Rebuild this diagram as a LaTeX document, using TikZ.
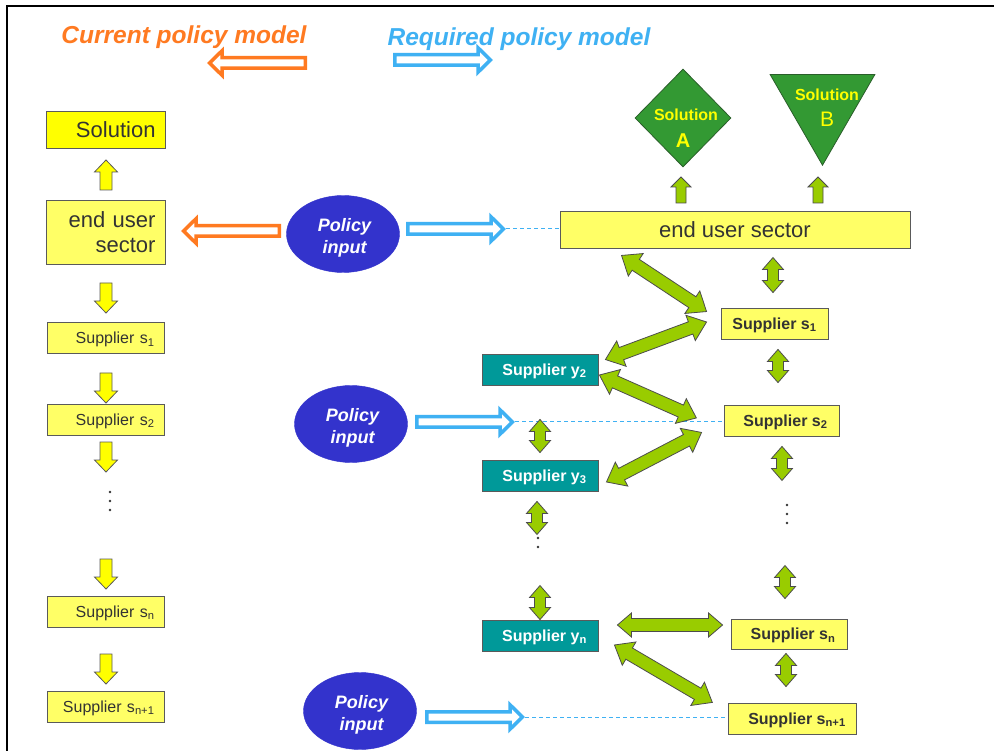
\documentclass[tikz,border=0pt]{standalone}
\usepackage{fontspec}
\setmainfont{Liberation Sans}
\usetikzlibrary{shapes.geometric,calc}

\definecolor{orangeT}{HTML}{FF7A21}
\definecolor{blueT}{HTML}{3FB1F3}
\definecolor{yelA}{HTML}{FFFF00}
\definecolor{yelB}{HTML}{FFFF66}
\definecolor{boxline}{HTML}{5A5A5A}
\definecolor{tealbox}{HTML}{009999}
\definecolor{solgreen}{HTML}{339933}
\definecolor{solline}{HTML}{2A5E2A}
\definecolor{polblue}{HTML}{3333CC}
\definecolor{arrgreen}{HTML}{99CC00}
\definecolor{txtgray}{HTML}{333333}

\newcommand\fsz[2]{\fontsize{#1}{#2}\selectfont}

% green two-headed block arrow between two points:
% #1 from, #2 to, #3 half body width, #4 half head width, #5 head length
\newcommand\gdbl[5]{%
  \path #1; \pgfgetlastxy{\gax}{\gay}%
  \path #2; \pgfgetlastxy{\gbx}{\gby}%
  \pgfmathsetmacro\gang{atan2(\gby-\gay,\gbx-\gax)}%
  \pgfmathsetmacro\glen{veclen(\gbx-\gax,\gby-\gay)}%
  \pgfmathsetmacro\gm{\glen-#5}%
  \begin{scope}[shift={(\gax,\gay)}, rotate=\gang]
    \draw[garrow] (0pt,0pt) -- (#5pt,#4pt) -- (#5pt,#3pt) -- (\gm pt,#3pt)
      -- (\gm pt,#4pt) -- (\glen pt,0pt) -- (\gm pt,-#4pt) -- (\gm pt,-#3pt)
      -- (#5pt,-#3pt) -- (#5pt,-#4pt) -- cycle;
  \end{scope}}

\tikzset{
  lbox/.style={draw=boxline, line width=0.9pt, fill=yelB, text=txtgray,
    inner xsep=9.5pt, inner ysep=0pt, align=right, text width=98pt,
    minimum height=31pt, font=\fsz{16}{19}},
  lsup/.style={lbox, text depth=0pt},
  rbox/.style={draw=boxline, line width=0.9pt, fill=yelB, text=txtgray,
    inner sep=0pt, minimum height=31pt, text depth=0pt,
    font=\bfseries\fsz{16}{19}},
  tbox/.style={draw=boxline, line width=0.9pt, fill=tealbox, text=white,
    inner sep=0pt, minimum width=116pt, minimum height=31pt, text depth=0pt,
    font=\bfseries\fsz{16}{19}},
  pol/.style={ellipse, fill=polblue, draw=polblue, inner sep=0pt,
    minimum width=113pt, minimum height=77pt},
  poltext/.style={text=white, align=center, inner sep=0pt,
    font=\bfseries\itshape\fsz{18}{22}},
  soltext/.style={text=yelA, inner sep=0pt, anchor=base, font=\bfseries\fsz{16}{19}},
  title/.style={anchor=base, inner sep=0pt, font=\bfseries\itshape\fsz{24.5}{28}},
  garrow/.style={fill=arrgreen, draw=black!70, line width=0.8pt, line join=miter},
  yarrstyle/.style={fill=yelA, draw=boxline, line width=0.8pt},
  dashline/.style={draw=blueT, line width=1pt, dash pattern=on 4pt off 3pt},
  yarr/.pic={\draw[yarrstyle] (0,0) -- (11.5,12) -- (6,12) -- (6,30) -- (-6,30)
    -- (-6,12) -- (-11.5,12) -- cycle;},
  garr/.pic={\draw[garrow] (0,0) -- (10,10) -- (5,10) -- (5,26) -- (-5,26)
    -- (-5,10) -- (-10,10) -- cycle;},
  hol/.pic={\draw[draw=#1, fill=white, line width=3.5pt] (-2.6,0) -- (-15,-12.25)
    -- (-15,-5.25) -- (-98.25,-5.25) -- (-98.25,5.25) -- (-15,5.25)
    -- (-15,12.25) -- cycle;},
}

\begin{document}
\begin{tikzpicture}[x=1pt, y=-1pt]
\useasboundingbox (0,0) rectangle (994,751);
\fill[white] (0,0) rectangle (994,751);

% frame
\draw[line width=2.5pt] (994,6) -- (7,6) -- (7,751);

% headings
\node[title, text=orangeT] (t1) at (184,44) {Current policy model};
\node[title, text=blueT] (t2) at (519,45.5) {Required policy model};
\pic[rotate=180] at (207,63) {hol=orangeT};
\pic at (493,60) {hol=blueT};

% ---- current model: a single chain ----
\node[lbox, fill=yelA, text width=100pt, minimum height=37pt, text depth=0pt, font=\fsz{22}{25}] (lsol) at (105.5,129.5) {Solution};
\node[lbox, text width=100pt, minimum height=64pt, font=\fsz{22}{25}] (leu) at (105.5,232) {end user\\sector};
\node[lsup] (ls1) at (105.5,338) {Supplier s\textsubscript{1}};
\node[lsup] (ls2) at (105.5,419.5) {Supplier s\textsubscript{2}};
\node[lsup] (lsn) at (105.5,611.5) {Supplier s\textsubscript{n}};
\node[lsup] (lsn1) at (105.5,706.5) {Supplier s\textsubscript{n+1}};

\pic at (106,160) {yarr};
\pic[rotate=180] at (106,313) {yarr};
\pic[rotate=180] at (106,403) {yarr};
\pic[rotate=180] at (106,472) {yarr};
\pic[rotate=180] at (106,589) {yarr};
\pic[rotate=180] at (106,684) {yarr};
\foreach \yy in {492,501,510} \fill[txtgray] (110,\yy) circle (1.4pt);

% ---- policy inputs ----
\node[pol] (p1) at (343,234) {};
\node[pol] (p2) at (351,424) {};
\node[pol] (p3) at (360,711) {};
\node[poltext] (p1t) at ($(p1)+(1.5,4)$) {Policy\\input};
\node[poltext] (p2t) at ($(p2)+(1.5,4)$) {Policy\\input};
\node[poltext] (p3t) at ($(p3)+(1.5,4)$) {Policy\\input};
\coordinate (o1) at (181,231);
\pic[rotate=180] at (o1) {hol=orangeT};

% ---- required model: a network ----
\node[diamond, fill=solgreen, draw=solline, line width=0.8pt, minimum width=96pt, minimum height=98pt, inner sep=0pt] (solA) at (683,118) {};
\node[soltext] (solAt) at (686,120.7) {Solution};
\node[soltext, font=\bfseries\fsz{20}{24}] (solAl) at (683,147.3) {A};
\node[regular polygon, regular polygon sides=3, shape border rotate=180, minimum size=121pt, inner sep=0pt, fill=solgreen, draw=solline, line width=0.8pt] (solB) at (822.5,104.7) {};
\node[soltext] (solBt) at (827,100.7) {Solution};
\node[soltext, font=\fsz{21}{24}] (solBl) at (827,126.7) {B};

\node[rbox, minimum width=350pt, minimum height=37pt, font=\fsz{22}{25}] (eu) at (735,229.5) {end user sector};
\node[rbox, minimum width=107pt] (rs1) at (774.5,323.5) {Supplier s\textsubscript{1}};
\node[rbox, minimum width=115pt] (rs2) at (781.5,420.5) {\hspace*{8pt}Supplier s\textsubscript{2}};
\node[rbox, minimum width=116pt, minimum height=30pt] (rsn) at (789,634) {\hspace*{8pt}Supplier s\textsubscript{n}};
\node[rbox, minimum width=128pt] (rsn1) at (792,718.5) {\hspace*{10pt}Supplier s\textsubscript{n+1}};
\node[tbox] (y2) at (540,369.5) {\hspace*{9pt}Supplier y\textsubscript{2}};
\node[tbox] (y3) at (540,475.5) {\hspace*{9pt}Supplier y\textsubscript{3}};
\node[tbox] (yn) at (540,635.5) {\hspace*{9pt}Supplier y\textsubscript{n}};

% policy arrows and their dashed leaders
\coordinate (b1) at (506,229);
\coordinate (b2) at (515,422);
\coordinate (b3) at (525,717);
\draw[dashline] (b1) -- (b1 -| eu.west);
\draw[dashline] (b2) -- (b2 -| rs2.west);
\draw[dashline] (b3) -- (b3 -| rsn1.west);
\pic at (b1) {hol=blueT};
\pic at (b2) {hol=blueT};
\pic at (b3) {hol=blueT};

% dots for the elided suppliers
\foreach \yy in {505,514,523} \fill[txtgray] (787,\yy) circle (1.4pt);
\foreach \yy in {529,538,547} \fill[txtgray] (538,\yy) circle (1.4pt);

% up arrows to the solutions
\pic at (681,177) {garr};
\pic at (818,177) {garr};

% diagonal and horizontal links
\gdbl{($(eu.south west)+(62,7)$)}{($(rs1.north west)+(-14,4)$)}{6.5}{13.5}{17}
\gdbl{($(rs1.west)+(-14,-1.5)$)}{($(y2.north east)+(7,6)$)}{6.5}{13.5}{17}
\gdbl{($(y2.east)+(1,5.5)$)}{($(rs2.west)+(-27,-2.5)$)}{6.5}{13.5}{17}
\gdbl{($(rs2.south west)+(-22,-4)$)}{($(y3.east)+(8,6.5)$)}{6.5}{13.5}{17}
\gdbl{($(yn.east)+(19,-10.5)$)}{($(rsn.west)+(-8,-9)$)}{6.5}{12}{14}
\gdbl{($(yn.east)+(16,9.5)$)}{($(rsn1.north west)+(-15,0)$)}{6.5}{13.5}{17}

% vertical links
\gdbl{($(rs1.north)+(-1.5,-50)$)}{($(rs1.north)+(-1.5,-15)$)}{5.5}{10.5}{12}
\gdbl{($(rs1.south)+(3.5,10)$)}{($(rs2.north)+(-3.5,-22)$)}{5.5}{10.5}{12}
\gdbl{($(rs2.south)+(0.5,10)$)}{($(rs2.south)+(0.5,44)$)}{5.5}{10.5}{12}
\gdbl{($(rsn.north)+(-4,-53)$)}{($(rsn.north)+(-4,-20)$)}{5.5}{10.5}{12}
\gdbl{($(rsn.south)+(-3,4)$)}{($(rsn1.north)+(-6,-16)$)}{5.5}{10.5}{12}
\gdbl{($(y2.south)+(0,34)$)}{($(y3.north)+(0,-7)$)}{5.5}{10.5}{12}
\gdbl{($(y3.south)+(-3,10)$)}{($(y3.south)+(-3,43)$)}{5.5}{10.5}{12}
\gdbl{($(yn.north)+(0,-34)$)}{($(yn.north)+(0,0)$)}{5.5}{10.5}{12}
\end{tikzpicture}
\end{document}
